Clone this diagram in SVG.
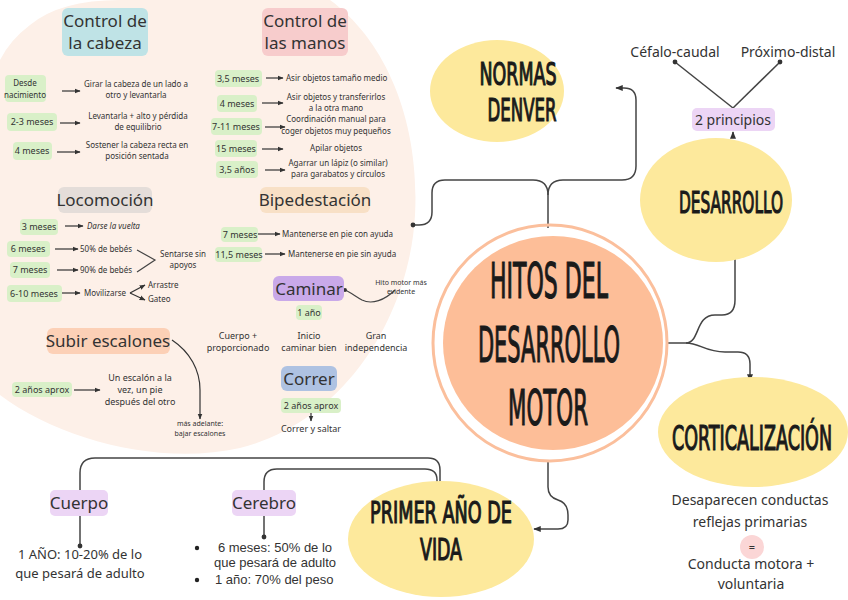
<svg xmlns="http://www.w3.org/2000/svg" width="848" height="600" viewBox="0 0 848 600">
<defs>
<marker id="ah" viewBox="0 0 10 10" refX="9" refY="5" markerWidth="5" markerHeight="5" orient="auto"><path d="M0,1 L10,5 L0,9 Z" fill="#333"/></marker>
<marker id="dot" viewBox="0 0 10 10" refX="5" refY="5" markerWidth="4" markerHeight="4"><circle cx="5" cy="5" r="4" fill="#333"/></marker>
<style>
.t{font-family:"Noto Sans","Liberation Sans",sans-serif;fill:#333;text-anchor:middle}
.s{font-size:8px}
.m{font-size:9px}
.l{font-size:13px}
.lb{font-family:"Liberation Sans",sans-serif;font-size:13px}
.h{font-size:17px}
.st{text-anchor:start}
.it{font-style:italic}
.big{font-family:"DejaVu Sans Condensed","DejaVu Sans",sans-serif;font-weight:normal;fill:#1a1a1a;stroke:#1a1a1a;stroke-width:1.2;text-anchor:middle}
.g{fill:#d9f0c8}
.a{stroke:#333;stroke-width:1.2;fill:none;marker-end:url(#ah)}
.c{stroke:#444;stroke-width:1.5;fill:none}
.y{fill:#fde99c}
</style>
</defs>
<rect width="848" height="600" fill="#fff"/>
<path id="blob" d="M30,25 Q60,0 120,0 L330,0 C385,40 420,120 415,215 C410,310 350,420 240,448 C160,466 60,440 0,395 L0,60 Q10,40 30,25 Z" fill="#fdf0e8"/>

<g id="connectors">
<path class="c" d="M548,228 V195 Q548,180 533,180 H445 Q432,180 432,193 V212 Q432,225 419,225 H413" marker-end="url(#dot)"/>
<path class="c" d="M548,195 Q548,180 563,180 H622 Q636,180 636,166 V100 Q636,88 624,88 H616" marker-end="url(#ah)"/>
<path class="c" d="M668,343 H686 C700,343 695,315 715,315 H722 Q735,315 735,300 V250" marker-end="url(#ah)"/>
<path class="c" d="M686,343 C700,343 705,352 725,352 H738 Q750,352 750,364 V381" marker-end="url(#ah)"/>
<path class="c" d="M548,460 V487 Q548,497 558,500 Q568,503 568,515 V520 Q568,529 558,529 H534" marker-end="url(#ah)"/>
<path class="c" d="M440,487 V470 Q440,458 428,458 H95 Q80,458 80,473 V490"/>
<path class="c" d="M437,487 V480 Q437,469 425,469 H277 Q264,469 264,482 V490"/>
<path class="c" d="M80,516 V546" marker-end="url(#dot)"/>
<path class="c" d="M264,516 V537" marker-end="url(#dot)"/>
<path class="c" d="M733,138 V132" marker-end="url(#ah)"/>
<path class="c" d="M733,108 L675,62" marker-end="url(#dot)"/>
<path class="c" d="M733,108 L780,62" marker-end="url(#dot)"/>
<path class="a" d="M62,91 H80"/>
<path class="a" d="M60,123 H80"/>
<path class="a" d="M57,152 H80"/>
<path class="a" d="M266,78 H283"/>
<path class="a" d="M262,103 H283"/>
<path class="a" d="M265,127 H285"/>
<path class="a" d="M262,149 H283"/>
<path class="a" d="M265,170 H285"/>
<path class="a" d="M65,226 H83"/>
<path class="a" d="M55,249 H78"/>
<path class="a" d="M57,270 H78"/>
<path class="a" d="M62,293 H80"/>
<path class="c" style="stroke-width:1.2" d="M137,250 L155,260 L137,272"/>
<path class="a" d="M130,293 L145,285"/>
<path class="a" d="M130,293 L145,300"/>
<path class="a" d="M258,234 H280"/>
<path class="a" d="M265,254 H285"/>
<path class="c" style="stroke-width:1.2" d="M395,290 C385,300 372,305 362,300 C355,296 350,292 345,290" marker-end="url(#dot)"/>
<path class="a" d="M74,390 H100"/>
<path class="a" d="M172,340 C190,352 200,370 200,390 V419"/>
<path class="a" d="M311,413 V421"/>
</g>

<g id="hitos">
<ellipse cx="553" cy="343" rx="110" ry="107" fill="#fdbe98"/>
<ellipse cx="550" cy="343" rx="117" ry="118" fill="none" stroke="#fbbf9c" stroke-width="3"/>
<text class="big" transform="translate(549,298) scale(0.45,1)" font-size="50" textLength="262" lengthAdjust="spacingAndGlyphs">HITOS DEL</text>
<text class="big" transform="translate(549,362) scale(0.45,1)" font-size="50" textLength="316" lengthAdjust="spacingAndGlyphs">DESARROLLO</text>
<text class="big" transform="translate(548,425) scale(0.45,1)" font-size="50" textLength="178" lengthAdjust="spacingAndGlyphs">MOTOR</text>
</g>

<g id="normas">
<ellipse class="y" cx="497" cy="91" rx="67" ry="51"/>
<text class="big" transform="translate(518,85) scale(0.5,1)" font-size="32" textLength="154" lengthAdjust="spacingAndGlyphs">NORMAS</text>
<text class="big" transform="translate(522,121) scale(0.5,1)" font-size="32" textLength="138" lengthAdjust="spacingAndGlyphs">DENVER</text>
</g>

<g id="desarrollo">
<ellipse class="y" cx="716" cy="200" rx="76" ry="62"/>
<text class="big" transform="translate(731,213) scale(0.5,1)" font-size="30" textLength="208" lengthAdjust="spacingAndGlyphs">DESARROLLO</text>
</g>

<g id="corticalizacion">
<ellipse class="y" cx="753" cy="432" rx="95" ry="55"/>
<text class="big" transform="translate(752,450) scale(0.5,1)" font-size="34" textLength="320" lengthAdjust="spacingAndGlyphs">CORTICALIZACIÓN</text>
</g>

<g id="primer">
<ellipse class="y" cx="441" cy="539" rx="93" ry="58"/>
<text class="big" transform="translate(441,523) scale(0.5,1)" font-size="30" textLength="284" lengthAdjust="spacingAndGlyphs">PRIMER AÑO DE</text>
<text class="big" transform="translate(441,560) scale(0.5,1)" font-size="30" textLength="84" lengthAdjust="spacingAndGlyphs">VIDA</text>
</g>

<g id="principios">
<rect x="692" y="108" width="83" height="23" rx="5" fill="#ecd5f5"/>
<text class="t" x="733" y="125" font-size="14">2 principios</text>
<text class="t" x="675" y="57" font-size="14">Céfalo-caudal</text>
<text class="t" x="788" y="57" font-size="14">Próximo-distal</text>
</g>

<g id="corticalizacion-texto">
<text class="t" x="750" y="505" font-size="14">Desaparecen conductas</text>
<text class="t" x="750" y="527" font-size="14">reflejas primarias</text>
<circle cx="752" cy="547" r="12" fill="#fbd6d6"/>
<text class="t" x="752" y="551" font-size="11">=</text>
<text class="t" x="751" y="569" font-size="14">Conducta motora +</text>
<text class="t" x="751" y="589" font-size="14">voluntaria</text>
</g>

<g id="cuerpo">
<rect x="50" y="490" width="58" height="26" rx="5" fill="#ecd5f5"/>
<text class="t h" x="79" y="509">Cuerpo</text>
<text class="t l" x="80" y="559">1 AÑO: 10-20% de lo</text>
<text class="t l" x="80" y="578">que pesará de adulto</text>
</g>

<g id="cerebro">
<rect x="232" y="490" width="64" height="26" rx="5" fill="#ecd5f5"/>
<text class="t h" x="264" y="509">Cerebro</text>
<circle cx="197" cy="548" r="2.2" fill="#222"/>
<text class="t lb" x="275" y="552">6 meses: 50% de lo</text>
<text class="t lb" x="275" y="567">que pesará de adulto</text>
<circle cx="197" cy="580" r="2.2" fill="#222"/>
<text class="t lb st" x="215" y="584">1 año: 70% del peso</text>
</g>

<g id="control-cabeza">
<rect x="62" y="8" width="86" height="48" rx="6" fill="#bfe3e6"/>
<text class="t h" x="105" y="27">Control de</text>
<text class="t h" x="105" y="49">la cabeza</text>
<rect class="g" x="5" y="75" width="41" height="27" rx="4"/>
<text class="t s" x="25" y="86">Desde</text>
<text class="t s" x="25" y="98">nacimiento</text>
<text class="t s" x="136" y="87">Girar la cabeza de un lado a</text>
<text class="t s" x="136" y="98">otro y levantarla</text>
<rect class="g" x="7" y="113" width="50" height="18" rx="4"/>
<text class="t m" x="32" y="125">2-3 meses</text>
<text class="t s" x="138" y="119">Levantarla + alto y pérdida</text>
<text class="t s" x="138" y="130">de equilibrio</text>
<rect class="g" x="13" y="142" width="39" height="18" rx="4"/>
<text class="t m" x="32" y="154">4 meses</text>
<text class="t s" x="137" y="148">Sostener la cabeza recta en</text>
<text class="t s" x="137" y="159">posición sentada</text>
</g>

<g id="control-manos">
<rect x="262" y="8" width="86" height="48" rx="6" fill="#f7cccc"/>
<text class="t h" x="305" y="27">Control de</text>
<text class="t h" x="305" y="49">las manos</text>
<rect class="g" x="215" y="70" width="47" height="17" rx="4"/>
<text class="t m" x="238" y="82">3,5 meses</text>
<text class="t s st" x="286" y="81">Asir objetos tamaño medio</text>
<rect class="g" x="217" y="95" width="40" height="17" rx="4"/>
<text class="t m" x="237" y="107">4 meses</text>
<text class="t s" x="336" y="100">Asir objetos y transferirlos</text>
<text class="t s" x="336" y="111">a la otra mano</text>
<rect class="g" x="211" y="118" width="51" height="17" rx="4"/>
<text class="t m" x="236" y="130">7-11 meses</text>
<text class="t s" x="336" y="122">Coordinación manual para</text>
<text class="t s" x="336" y="134">coger objetos muy pequeños</text>
<rect class="g" x="215" y="140" width="42" height="17" rx="4"/>
<text class="t m" x="236" y="152">15 meses</text>
<text class="t s" x="336" y="151">Apilar objetos</text>
<rect class="g" x="216" y="161" width="42" height="17" rx="4"/>
<text class="t m" x="237" y="173">3,5 años</text>
<text class="t s" x="338" y="166">Agarrar un lápiz (o similar)</text>
<text class="t s" x="338" y="177">para garabatos y círculos</text>
</g>

<g id="locomocion">
<rect x="58" y="187" width="94" height="26" rx="6" fill="#e4ddd9"/>
<text class="t h" x="105" y="206">Locomoción</text>
<rect class="g" x="20" y="219" width="38" height="16" rx="4"/>
<text class="t m" x="39" y="230">3 meses</text>
<text class="t s st it" x="87" y="229">Darse la vuelta</text>
<rect class="g" x="7" y="241" width="43" height="16" rx="4"/>
<text class="t m" x="28" y="252">6 meses</text>
<text class="t s st" x="80" y="252">50% de bebés</text>
<rect class="g" x="10" y="262" width="40" height="16" rx="4"/>
<text class="t m" x="30" y="273">7 meses</text>
<text class="t s st" x="80" y="273">90% de bebés</text>
<text class="t s" x="183" y="257">Sentarse sin</text>
<text class="t s" x="183" y="268">apoyos</text>
<rect class="g" x="7" y="285" width="55" height="17" rx="4"/>
<text class="t m" x="34" y="297">6-10 meses</text>
<text class="t s st" x="84" y="296">Movilizarse</text>
<text class="t s st" x="148" y="288">Arrastre</text>
<text class="t s st" x="148" y="302">Gateo</text>
</g>

<g id="bipedestacion">
<rect x="260" y="187" width="110" height="26" rx="6" fill="#f8e0c6"/>
<text class="t h" x="315" y="206">Bipedestación</text>
<rect class="g" x="221" y="227" width="37" height="15" rx="4"/>
<text class="t m" x="240" y="238">7 meses</text>
<text class="t s st" x="282" y="237">Mantenerse en pie con ayuda</text>
<rect class="g" x="215" y="247" width="47" height="15" rx="4"/>
<text class="t m" x="239" y="258">11,5 meses</text>
<text class="t s st" x="288" y="257">Mantenerse en pie sin ayuda</text>
</g>

<g id="caminar">
<rect x="273" y="276" width="71" height="25" rx="6" fill="#c9a9e9"/>
<text class="t h" x="309" y="295">Caminar</text>
<text class="t" x="401" y="285" font-size="7">Hito motor más</text>
<text class="t" x="401" y="294" font-size="7">evidente</text>
<rect class="g" x="296" y="305" width="26" height="15" rx="4"/>
<text class="t m" x="309" y="316">1 año</text>
<text class="t m" x="238" y="339">Cuerpo +</text>
<text class="t m" x="238" y="351">proporcionado</text>
<text class="t m" x="309" y="339">Inicio</text>
<text class="t m" x="309" y="351">caminar bien</text>
<text class="t m" x="376" y="339">Gran</text>
<text class="t m" x="376" y="351">independencia</text>
</g>

<g id="correr">
<rect x="281" y="366" width="56" height="25" rx="6" fill="#aec2e2"/>
<text class="t h" x="309" y="385">Correr</text>
<rect class="g" x="281" y="398" width="60" height="15" rx="4"/>
<text class="t m" x="311" y="409">2 años aprox</text>
<text class="t m" x="311" y="432">Correr y saltar</text>
</g>

<g id="subir">
<rect x="47" y="328" width="123" height="26" rx="6" fill="#fcd0b6"/>
<text class="t h" x="108" y="347">Subir escalones</text>
<rect class="g" x="12" y="382" width="60" height="15" rx="4"/>
<text class="t m" x="42" y="393">2 años aprox</text>
<text class="t m" x="140" y="381">Un escalón a la</text>
<text class="t m" x="140" y="393">vez, un pie</text>
<text class="t m" x="140" y="405">después del otro</text>
<text class="t" x="200" y="426" font-size="7">más adelante:</text>
<text class="t" x="200" y="436" font-size="7">bajar escalones</text>
</g>
</svg>
